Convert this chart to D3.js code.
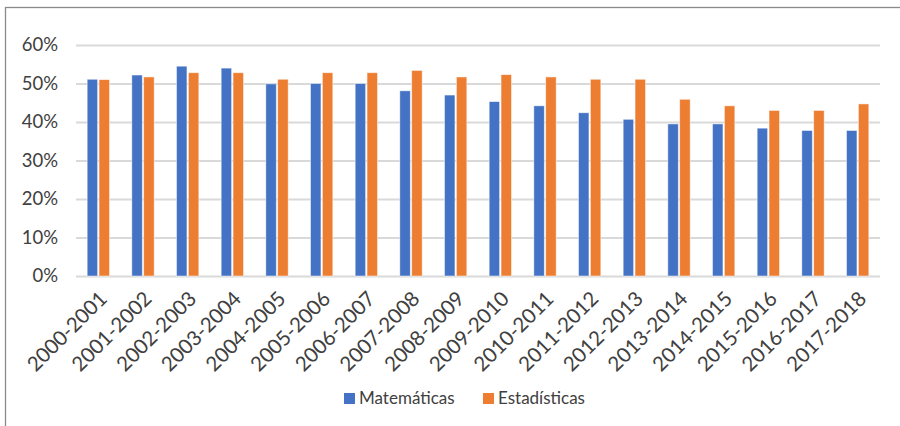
<!DOCTYPE html>
<html>
<head>
<meta charset="utf-8">
<script src="https://cdn.jsdelivr.net/npm/d3@7"></script>
<style>
  html, body { margin: 0; padding: 0; background: #fff; }
  svg { display: block; }
  text { font-family: Lato, "Open Sans", sans-serif; fill: #404040; }
</style>
</head>
<body>
<svg id="chart" width="900" height="426"></svg>
<script>
// Academic years shown on the category axis
const years = ["2000-2001","2001-2002","2002-2003","2003-2004","2004-2005","2005-2006",
  "2006-2007","2007-2008","2008-2009","2009-2010","2010-2011","2011-2012",
  "2012-2013","2013-2014","2014-2015","2015-2016","2016-2017","2017-2018"];

// Share per year (%)
const matematicas = [51.1, 52.2, 54.5, 54.0, 49.9, 50.0, 50.0, 48.1, 47.0, 45.3, 44.2, 42.4,
  40.7, 39.5, 39.5, 38.4, 37.8, 37.8];
const estadisticas = [51.0, 51.7, 52.8, 52.8, 51.1, 52.8, 52.8, 53.4, 51.7, 52.3, 51.7, 51.1,
  51.1, 45.9, 44.2, 43.0, 43.0, 44.7];

const seriesNames = ["Matemáticas", "Estadísticas"];
const seriesColors = ["#4472C4", "#ED7D31"];
const yTicks = [0, 10, 20, 30, 40, 50, 60];

const svg = d3.select("#chart");

// chart frame
svg.append("rect")
  .attr("x", 5.5).attr("y", 7.5)
  .attr("width", 910).attr("height", 430)
  .attr("fill", "none")
  .attr("stroke", "#8a8a8a")
  .attr("stroke-width", 1.3);

const plot = { left: 76, right: 880, top: 45, bottom: 276 };

const x0 = d3.scaleBand()
  .domain(years)
  .range([plot.left, plot.right])
  .paddingInner(0.5)
  .paddingOuter(0.25);

const x1 = d3.scaleBand()
  .domain(seriesNames)
  .range([0, x0.bandwidth()])
  .paddingInner(0.12);

const y = d3.scaleLinear()
  .domain([0, 60])
  .range([plot.bottom, plot.top]);

// gridlines
const yAxis = d3.axisLeft(y)
  .tickValues(yTicks)
  .tickFormat(d => d + "%")
  .tickSize(-(plot.right - plot.left))
  .tickPadding(18);

const gy = svg.append("g")
  .attr("transform", `translate(${plot.left},0)`)
  .call(yAxis);
gy.select(".domain").remove();
gy.selectAll(".tick line")
  .attr("stroke", "#d9d9d9")
  .attr("stroke-width", 1.8);
gy.selectAll(".tick text")
  .attr("font-size", 18.5)
  .attr("fill", "#404040");

// bars
const rows = years.map((yr, i) => ({ year: yr, values: [matematicas[i], estadisticas[i]] }));

const groups = svg.append("g").selectAll("g")
  .data(rows)
  .join("g")
  .attr("transform", d => `translate(${x0(d.year)},0)`);

groups.selectAll("rect")
  .data(d => d.values.map((v, k) => ({ name: seriesNames[k], value: v, color: seriesColors[k] })))
  .join("rect")
  .attr("x", d => x1(d.name))
  .attr("width", x1.bandwidth())
  .attr("y", d => y(d.value))
  .attr("height", d => y(0) - y(d.value))
  .attr("fill", d => d.color)
  .attr("stroke", "#ffffff")
  .attr("stroke-opacity", 0.6)
  .attr("stroke-width", 0.8);

// category axis labels, rotated 45 degrees
const xAxis = d3.axisBottom(x0).tickSize(0).tickPadding(0);
const gx = svg.append("g")
  .attr("transform", `translate(0,${plot.bottom})`)
  .call(xAxis);
gx.select(".domain").remove();
gx.selectAll(".tick text")
  .attr("font-size", 20.5)
  .attr("fill", "#404040")
  .attr("text-anchor", "end")
  .attr("dy", null)
  .attr("y", null)
  .attr("transform", "translate(10,24) rotate(-45)");

// legend
const legend = svg.append("g");
const legendX = [344, 483];
seriesNames.forEach((name, k) => {
  legend.append("rect")
    .attr("x", legendX[k]).attr("y", 393)
    .attr("width", 11).attr("height", 11)
    .attr("fill", seriesColors[k]);
  legend.append("text")
    .attr("x", legendX[k] + 15).attr("y", 404)
    .attr("font-size", 17)
    .text(name);
});
</script>
</body>
</html>
